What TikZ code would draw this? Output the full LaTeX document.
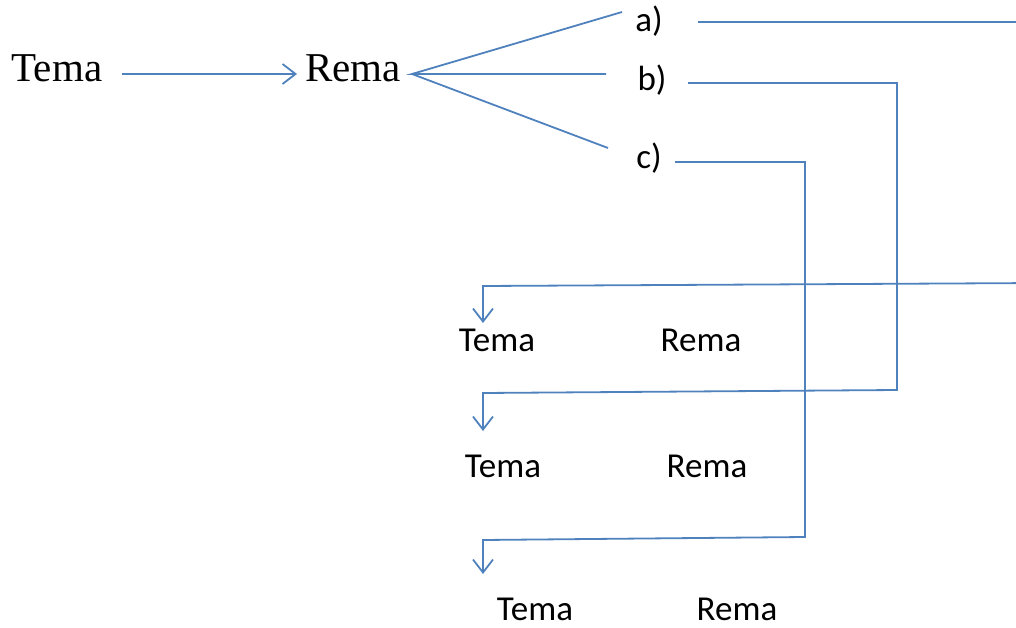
\documentclass[tikz,border=0pt]{standalone}
\usepackage{fontspec}
\setmainfont{Liberation Serif}
\newfontfamily\calfont{Carlito}
\usetikzlibrary{arrows.meta}
\definecolor{linkblue}{HTML}{4F81BD}
\tikzset{
  link/.style={draw=linkblue, line width=1.8pt},
  tip/.style={-{Straight Barb[length=13pt,width=20pt,line width=1.8pt]}},
  serifword/.style={font=\fontsize{41}{41}\selectfont, inner sep=0pt, text=black},
  sansword/.style={font=\calfont\fontsize{35}{35}\selectfont, inner sep=0pt, text=black},
}
\begin{document}
\begin{tikzpicture}[x=1pt,y=-1pt]
\useasboundingbox (0,0) rectangle (1016,628);

% top line: theme and rheme
\node[serifword] (T0) at (57,68) {Tema};
\node[serifword] (R0) at (353,68) {Rema};
\draw[link,tip] (T0.east |- 0,74) ++(20,0) coordinate (ar0) -- (297,74) coordinate (ar1);

% the three branches
\node[sansword] (a) at (649,21) {a)};
\node[sansword] (b) at (652,80) {b)};
\node[sansword] (c) at (649,158) {c)};
\coordinate (fan) at (412,74);
\coordinate (fa) at (622,12);
\coordinate (fb) at (606,74);
\coordinate (fc) at (608,148);
\draw[link] (fa) -- (fan) -- (fb);
\draw[link] (fan) -- (fc);

% second level
\node[sansword] (T1) at (497,340) {Tema};
\node[sansword] (R1) at (701,340) {Rema};
\node[sansword] (T2) at (503,466) {Tema};
\node[sansword] (R2) at (707,466) {Rema};
\node[sansword] (T3) at (535,609) {Tema};
\node[sansword] (R3) at (737,609) {Rema};

% routes from the branches down to each pair
\coordinate (as) at (698,22);
\coordinate (ae) at (1040,22);
\coordinate (ad) at (1040,283);
\coordinate (k1) at (483,286);
\coordinate (d1) at (483,323);
\coordinate (bs) at (688,83);
\coordinate (be) at (897,83);
\coordinate (bd) at (897,390);
\coordinate (k2) at (483,393);
\coordinate (d2) at (483,431);
\coordinate (cs) at (675,162);
\coordinate (ce) at (805,162);
\coordinate (cd) at (805,537);
\coordinate (k3) at (483,540);
\coordinate (d3) at (483,574);

\begin{scope}
\clip (0,0) rectangle (1016,628);
\draw[link,tip] (as) -- (ae) -- (ad) -- (k1) -- (d1);
\end{scope}
\draw[link,tip] (bs) -- (be) -- (bd) -- (k2) -- (d2);
\draw[link,tip] (cs) -- (ce) -- (cd) -- (k3) -- (d3);
\end{tikzpicture}
\end{document}
